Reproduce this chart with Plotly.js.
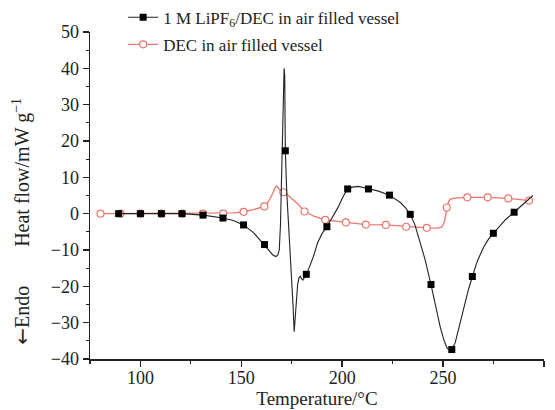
<!DOCTYPE html>
<html>
<head>
<meta charset="utf-8">
<script src="https://cdn.plot.ly/plotly-3.0.1.min.js"></script>
<style>html,body{margin:0;padding:0;background:#fff;}#chart{width:555px;height:410px;}</style>
</head>
<body>
<div id="chart"></div>
<script>
// 1 M LiPF6/DEC curve (temperature °C, heat flow mW/g)
var saltT = [89.2,100,110.4,120.6,131,140.9,146,151.1,156,161.5,164,165.5,167,168,168.8,169.4,170.0,170.6,171.2,171.5,171.8,172.5,173.3,174.2,174.9,175.6,176.2,176.7,177.3,177.9,178.6,179.2,179.8,180.5,181.3,182.2,184,185.6,187.8,190,192.4,195,198,200.5,202.7,205,208,210.5,213,218,223.4,226,229,231.5,233.7,236,238.5,241,244,246.5,248.5,250.5,252,253.3,254.3,256,258,260.5,262.5,264.5,267,270,272.5,274.9,278,281,285.2,289,292,294.5];
var saltH = [0,0,0,0,-0.4,-1.2,-1.9,-3.1,-5.2,-8.5,-10.3,-11.3,-11.8,-11.5,-10,-3,10,28,40,38,17.3,6,-2,-9,-15.6,-25,-32.5,-28,-22,-19.5,-17.6,-17.2,-17.9,-18.3,-17.5,-16.7,-14.3,-12,-8,-5.5,-3.6,-1.0,1.8,4.8,6.8,7.3,7.5,7.2,6.8,6.2,5.1,4.2,3,1.5,-0.2,-3,-7.5,-12.5,-19.5,-26,-31,-35,-37,-37.6,-37.4,-35.5,-31,-25.5,-21,-17.3,-13,-9.3,-7,-5.4,-3.4,-1.6,0.4,2.3,3.8,5];
var saltMarkT = [89.2,100,110.4,120.6,131,140.9,151.1,161.5,171.8,182.2,192.4,202.7,213,223.4,233.7,244,254.3,264.5,274.9,285.2];
var saltMarkH = [0,0,0,0,-0.4,-1.2,-3.1,-8.5,17.3,-16.7,-3.6,6.8,6.8,5.1,-0.2,-19.5,-37.4,-17.3,-5.4,0.4];

// DEC curve
var decT = [80.2,90.1,100,110.4,120.6,131,141,146,151.1,156,161.4,163.4,165.5,166.7,167.5,168.7,170.8,172.4,175,178.2,181.3,186,191.6,201.8,211.7,221.6,231.7,241.9,247,249.3,250.5,251.3,251.8,252.6,253.5,256,262,272.1,282.3,292.6,294];
var decH = [0,0,0,0,0,0,0,0.2,0.5,1.1,2.0,3.3,5.5,7.2,7.6,6.8,5.9,5.4,4.2,2.6,0.6,-0.7,-1.7,-2.4,-3.0,-3.1,-3.6,-3.9,-4.0,-3.7,-2.5,0,1.7,3.2,4.0,4.3,4.5,4.5,4.2,3.6,3.5];
var decMarkT = [80.2,90.1,100,110.4,120.6,131,141,151.1,161.4,170.8,181.3,191.6,201.8,211.7,221.6,231.7,241.9,251.8,262,272.1,282.3,292.6];
var decMarkH = [0,0,0,0,0,0,0,0.5,2.0,5.9,0.6,-1.7,-2.4,-3.0,-3.1,-3.6,-3.9,1.7,4.5,4.5,4.2,3.6];

var saltName = '1 M LiPF<sub>6</sub>/DEC in air filled vessel';
var decName = 'DEC in air filled vessel';
var xTitle = 'Temperature/°C';
var yTitle = 'Heat flow/mW g<sup>−1</sup>';
var endoLabel = '<span style="font-family:DejaVu Sans">←</span>Endo';

var black = '#222222';
var red = '#ea7670';
var fnt = 'Liberation Serif, Times New Roman, serif';

var traces = [
  {x: decT, y: decH, mode: 'lines', line: {color: red, width: 1.3}, showlegend: false, hoverinfo: 'skip'},
  {x: decMarkT, y: decMarkH, mode: 'markers', marker: {symbol: 'circle', size: 7, color: '#ffffff', line: {color: red, width: 1.2}}, showlegend: false},
  {x: saltT, y: saltH, mode: 'lines', line: {color: black, width: 1.1}, showlegend: false, hoverinfo: 'skip'},
  {x: saltMarkT, y: saltMarkH, mode: 'markers', marker: {symbol: 'square', size: 7, color: '#000000'}, showlegend: false},
  {x: [null], y: [null], mode: 'lines+markers', name: saltName, legendgroup: 'a', line: {color: black, width: 1.1}, marker: {symbol: 'square', size: 7, color: '#000000'}},
  {x: [null], y: [null], mode: 'lines+markers', name: decName, legendgroup: 'b', line: {color: red, width: 1.3}, marker: {symbol: 'circle', size: 7, color: '#ffffff', line: {color: red, width: 1.2}}}
];

var layout = {
  width: 555, height: 410,
  margin: {l: 90, r: 11, t: 32, b: 51, autoexpand: false},
  paper_bgcolor: '#ffffff', plot_bgcolor: '#ffffff',
  font: {family: fnt, color: black, size: 18},
  showlegend: true,
  legend: {x: 0.073, y: 1.099, xanchor: 'left', yanchor: 'top', bgcolor: 'rgba(0,0,0,0)', font: {family: fnt, size: 17, color: black}, traceorder: 'grouped', tracegroupgap: 2},
  xaxis: {
    range: [75, 300], showline: true, linecolor: black, linewidth: 1.5, mirror: false,
    ticks: 'outside', ticklen: 6, tickwidth: 1.5, tickcolor: black, tick0: 100, dtick: 50,
    ticklabelstandoff: -4,
    minor: {ticks: 'outside', ticklen: 3, tickwidth: 1.2, tickcolor: black, dtick: 25, tick0: 75},
    showgrid: false, zeroline: false, tickfont: {family: fnt, size: 18, color: black},
    title: {text: xTitle, font: {family: fnt, size: 19, color: black}, standoff: 4}
  },
  yaxis: {
    range: [-40, 50], showline: true, linecolor: black, linewidth: 1.5,
    ticks: 'outside', ticklen: 6, tickwidth: 1.5, tickcolor: black, dtick: 10,
    minor: {ticks: 'outside', ticklen: 3, tickwidth: 1.2, tickcolor: black, dtick: 5},
    showgrid: false, zeroline: false, tickfont: {family: fnt, size: 18, color: black}
  },
  annotations: [
    {text: yTitle, xref: 'paper', yref: 'paper', x: -0.15, y: 0.572, textangle: -90, showarrow: false, font: {family: fnt, size: 20, color: black}, xanchor: 'center', yanchor: 'middle'},
    {text: endoLabel, xref: 'paper', yref: 'paper', x: -0.15, y: 0.135, textangle: -90, showarrow: false, font: {family: fnt, size: 20, color: black}, xanchor: 'center', yanchor: 'middle'}
  ]
};

Plotly.newPlot('chart', traces, layout, {displayModeBar: false, staticPlot: true});
</script>
</body>
</html>
